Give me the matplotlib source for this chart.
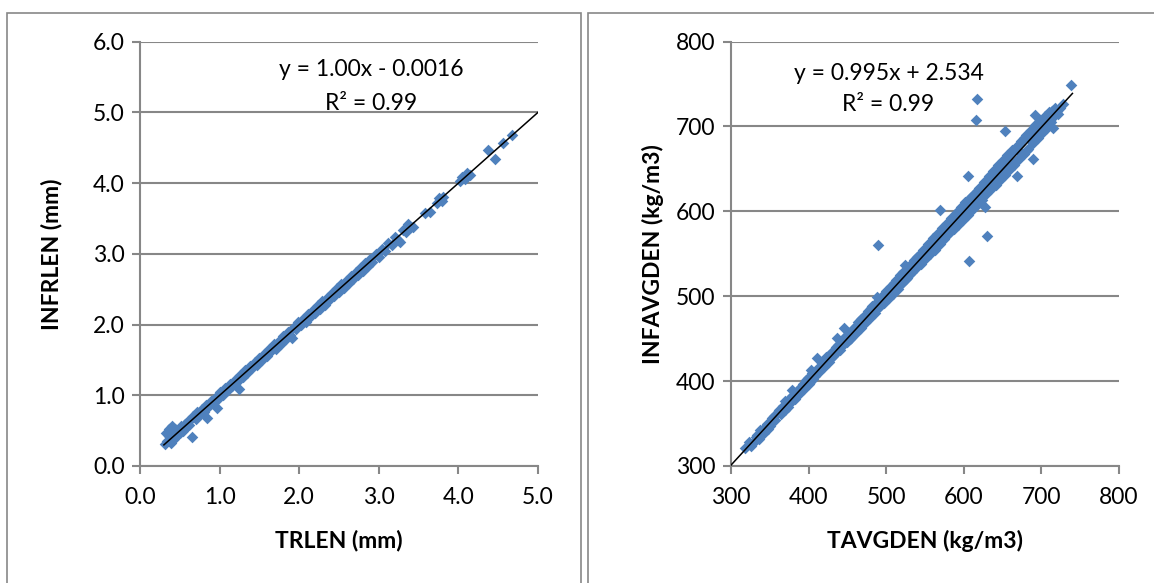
import matplotlib
matplotlib.use("Agg")
import matplotlib.pyplot as plt
from matplotlib.patches import Rectangle
import numpy as np

plt.rcParams['font.family'] = ['Lato', 'DejaVu Sans']

# tracheid length: measured vs inferred (mm)
trlen = [0.31, 0.33, 0.34, 0.36, 0.37, 0.39, 0.40, 0.41, 0.43, 0.44, 0.46, 0.48, 0.50, 0.52,
         0.54, 0.56, 0.58, 0.60, 0.62, 0.64, 0.65, 0.67, 0.70, 0.72, 0.75, 0.78, 0.80, 0.83,
         0.84, 0.86, 0.89, 0.92, 0.95, 0.97, 0.98, 1.01, 1.04, 1.07, 1.10, 1.13, 1.16, 1.19,
         1.22, 1.24, 1.26, 1.29, 1.32, 1.35, 1.38, 1.41, 1.44, 1.47, 1.50, 1.53, 1.56, 1.59,
         1.62, 1.65, 1.68, 1.71, 1.74, 1.77, 1.80, 1.83, 1.86, 1.89, 1.91, 1.93, 1.96, 1.99,
         2.02, 2.05, 2.08, 2.11, 2.14, 2.17, 2.20, 2.23, 2.26, 2.29, 2.32, 2.35, 2.38, 2.41,
         2.44, 2.47, 2.50, 2.53, 2.56, 2.59, 2.62, 2.65, 2.68, 2.71, 2.74, 2.77, 2.80, 2.83,
         2.86, 2.89, 2.92, 2.96, 3.00, 3.04, 3.08, 3.12, 3.16, 3.20, 3.24, 3.27, 3.30, 3.34,
         3.37, 3.40, 3.43, 3.58, 3.64, 3.73, 3.76, 3.79, 3.81, 4.02, 4.05, 4.08, 4.11, 4.15,
         4.37, 4.46, 4.56, 4.67]
infrlen = [0.31, 0.46, 0.36, 0.52, 0.42, 0.33, 0.57, 0.47, 0.38, 0.53, 0.44, 0.51, 0.47, 0.56,
           0.50, 0.59, 0.55, 0.63, 0.58, 0.67, 0.41, 0.70, 0.66, 0.76, 0.73, 0.81, 0.77, 0.86,
           0.68, 0.84, 0.92, 0.89, 0.98, 0.82, 0.95, 1.04, 1.01, 1.10, 1.07, 1.16, 1.13, 1.22,
           1.19, 1.09, 1.29, 1.26, 1.35, 1.32, 1.41, 1.38, 1.47, 1.43, 1.53, 1.50, 1.59, 1.55,
           1.65, 1.62, 1.72, 1.66, 1.77, 1.73, 1.84, 1.80, 1.90, 1.85, 1.81, 1.96, 1.93, 2.03,
           1.99, 2.08, 2.04, 2.15, 2.11, 2.21, 2.16, 2.27, 2.22, 2.33, 2.28, 2.38, 2.34, 2.45,
           2.40, 2.51, 2.46, 2.57, 2.52, 2.62, 2.58, 2.69, 2.64, 2.74, 2.70, 2.80, 2.76, 2.87,
           2.82, 2.92, 2.88, 2.99, 2.96, 3.07, 3.04, 3.15, 3.12, 3.23, 3.20, 3.17, 3.33, 3.31,
           3.42, 3.38, 3.38, 3.58, 3.59, 3.72, 3.79, 3.74, 3.80, 4.03, 4.08, 4.05, 4.14, 4.12,
           4.46, 4.34, 4.57, 4.68]

# average density: measured vs inferred (kg/m3)
tavgden = [318, 323, 329, 334, 338, 342, 346, 350, 353, 357, 360, 364, 367, 370, 373, 376,
           379, 382, 385, 388, 391, 394, 397, 400, 403, 406, 409, 411, 414, 417, 420, 423,
           426, 429, 432, 435, 437, 440, 443, 446, 449, 452, 455, 458, 461, 464, 467, 470,
           473, 476, 479, 482, 485, 488, 490, 492, 494, 497, 500, 503, 506, 509, 512, 515,
           518, 521, 524, 527, 530, 533, 536, 539, 542, 545, 548, 551, 554, 557, 560, 563,
           566, 569, 569, 572, 575, 578, 581, 584, 587, 590, 593, 596, 599, 602, 605, 605,
           607, 608, 611, 614, 616, 617, 617, 620, 623, 626, 627, 629, 630, 632, 635, 638,
           641, 644, 647, 650, 653, 653, 656, 659, 662, 665, 668, 668, 671, 674, 677, 680,
           683, 686, 689, 689, 692, 692, 695, 698, 701, 704, 707, 710, 713, 715, 718, 722,
           738,
           326, 332, 336, 344, 348, 352, 356, 362, 365, 369, 372, 375, 378, 381, 384, 387,
           390, 393, 396, 399, 402, 405, 408, 413, 416, 419, 422, 425, 428, 431, 434, 438,
           441, 444, 447, 450, 453, 456, 459, 462, 465, 468, 471, 474, 477, 480, 483, 486,
           489, 491, 493, 496, 498, 501, 504, 507, 510, 513, 516, 519, 522, 525, 528, 531,
           534, 537, 540, 543, 546, 549, 552, 555, 558, 561, 564, 567, 570, 573, 576, 579,
           582, 585, 588, 591, 594, 597, 600, 603, 606, 609, 612, 615, 618, 621, 624, 627,
           630, 633, 636, 639, 642, 645, 648, 651, 654, 657, 660, 663, 666, 669, 672, 675,
           678, 681, 684, 687, 690, 693, 696, 699, 702, 705, 708, 711, 714, 716, 720, 724,
           728]
infavgden = [321, 328, 328, 337, 342, 339, 350, 347, 357, 354, 364, 361, 371, 376, 369, 380,
             389, 379, 388, 385, 394, 391, 401, 397, 413, 403, 412, 427, 411, 421, 417, 428,
             423, 433, 429, 440, 451, 437, 448, 462, 446, 457, 451, 463, 457, 470, 463, 476,
             468, 482, 474, 488, 480, 499, 560, 488, 500, 492, 506, 498, 512, 503, 519, 509,
             525, 515, 537, 521, 536, 528, 543, 533, 549, 538, 555, 545, 561, 550, 568, 555,
             573, 601, 561, 580, 567, 586, 574, 592, 579, 598, 584, 605, 590, 611, 642, 596,
             542, 616, 602, 622, 708, 732, 608, 628, 613, 635, 605, 620, 571, 641, 626, 647,
             631, 654, 637, 660, 694, 643, 666, 650, 672, 655, 642, 677, 662, 683, 668, 690,
             673, 696, 662, 680, 714, 702, 686, 708, 692, 712, 698, 717, 705, 698, 722, 715,
             749,
             324, 334, 332, 346, 344, 353, 359, 366, 362, 366, 374, 373, 382, 384, 383, 391,
             389, 397, 395, 404, 399, 409, 406, 417, 414, 424, 420, 430, 426, 436, 432, 442,
             444, 442, 452, 454, 450, 460, 455, 466, 461, 473, 469, 478, 473, 486, 479, 491,
             486, 495, 496, 499, 495, 502, 509, 505, 515, 509, 521, 514, 528, 520, 532, 526,
             539, 535, 546, 539, 551, 544, 557, 552, 564, 556, 570, 563, 576, 570, 583, 573,
             588, 582, 595, 586, 601, 592, 607, 598, 613, 604, 619, 609, 625, 616, 630, 620,
             636, 627, 644, 634, 650, 639, 656, 645, 662, 650, 668, 656, 673, 660, 679, 668,
             686, 672, 692, 683, 697, 687, 703, 694, 708, 700, 714, 708, 718, 712, 718, 722,
             726]

# fitted trend lines (slope, intercept) and their drawn x ranges
fit_len = (1.00, -0.0016)
fit_den = (0.995, 2.534)
len_range = [0.3, 5.0]
den_range = [300, 740]

blue = '#4F81BD'
grey = '#878787'
fs = 16.5

fig = plt.figure(figsize=(11.54, 5.83), dpi=100)

# chart area borders
fig.patches.append(Rectangle((7 / 1154, -0.05), 574 / 1154, 1.05 - 13 / 583,
                             transform=fig.transFigure, fill=False,
                             edgecolor=grey, linewidth=1.2))
fig.patches.append(Rectangle((588 / 1154, -0.05), 600 / 1154, 1.05 - 13 / 583,
                             transform=fig.transFigure, fill=False,
                             edgecolor=grey, linewidth=1.2))

ax1 = fig.add_axes([140 / 1154, 1 - 466 / 583, 398 / 1154, 424.5 / 583])
ax2 = fig.add_axes([731 / 1154, 1 - 466 / 583, 388 / 1154, 424.5 / 583])


def style(ax):
    for s in ['top', 'right']:
        ax.spines[s].set_visible(False)
    for s in ['left', 'bottom']:
        ax.spines[s].set_color(grey)
        ax.spines[s].set_linewidth(1.5)
    ax.yaxis.grid(True, color=grey, linewidth=1.5)
    ax.set_axisbelow(True)
    ax.tick_params(direction='out', length=6, width=1.5, color=grey,
                   labelsize=fs)
    ax.tick_params(axis='x', pad=9)
    ax.tick_params(axis='y', pad=5)


ax1.scatter(trlen, infrlen, marker='D', s=35, color=blue, linewidths=0, zorder=3)
xl = np.array(len_range)
ax1.plot(xl, fit_len[0] * xl + fit_len[1], color='black', linewidth=1.1, zorder=4)
ax1.set_xlim(0, 5)
ax1.set_ylim(0, 6)
ax1.set_xticks(np.arange(0, 5.01, 1.0))
ax1.set_yticks(np.arange(0, 6.01, 1.0))
ax1.xaxis.set_major_formatter(matplotlib.ticker.FormatStrFormatter('%.1f'))
ax1.yaxis.set_major_formatter(matplotlib.ticker.FormatStrFormatter('%.1f'))
style(ax1)
ax1.set_xlabel('TRLEN (mm)', fontsize=fs, fontweight='bold', labelpad=16)
ax1.set_ylabel('INFRLEN (mm)', fontsize=fs, fontweight='bold', labelpad=22)
ax1.text(2.9, 5.6, 'y = 1.00x - 0.0016', fontsize=fs, ha='center', va='center')
ax1.text(2.9, 5.12, 'R² = 0.99', fontsize=fs, ha='center', va='center')

ax2.scatter(tavgden, infavgden, marker='D', s=35, color=blue, linewidths=0, zorder=3)
xd = np.array(den_range)
ax2.plot(xd, fit_den[0] * xd + fit_den[1], color='black', linewidth=1.1, zorder=4)
ax2.set_xlim(300, 800)
ax2.set_ylim(300, 800)
ax2.set_xticks(np.arange(300, 801, 100))
ax2.set_yticks(np.arange(300, 801, 100))
style(ax2)
ax2.set_xlabel('TAVGDEN (kg/m3)', fontsize=fs, fontweight='bold', labelpad=16)
ax2.set_ylabel('INFAVGDEN (kg/m3)', fontsize=fs, fontweight='bold', labelpad=9)
ax2.text(503, 762, 'y = 0.995x + 2.534', fontsize=fs, ha='center', va='center')
ax2.text(503, 726, 'R² = 0.99', fontsize=fs, ha='center', va='center')

fig.savefig('out.png', dpi=100)
